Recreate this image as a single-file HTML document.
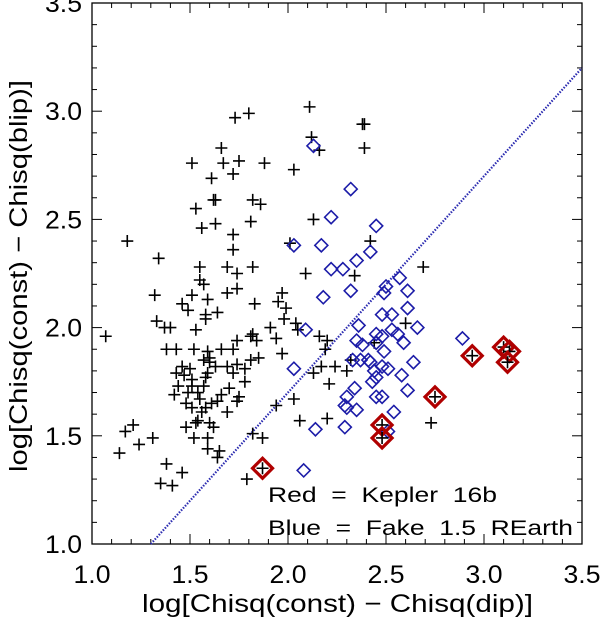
<!DOCTYPE html>
<html><head><meta charset="utf-8"><style>
html,body{margin:0;padding:0;background:#fff;}
svg{display:block;font-family:"Liberation Sans",sans-serif;}
</style></head><body>
<svg id="chart" width="603" height="620" viewBox="0 0 603 620" xmlns="http://www.w3.org/2000/svg">
<g id="ticks"></g>
<g id="marks"></g>
<text x="142" y="612" font-size="25" textLength="391" lengthAdjust="spacingAndGlyphs">log[Chisq(const) − Chisq(dip)]</text>
<text transform="translate(27,472) rotate(-90)" font-size="25" textLength="392" lengthAdjust="spacingAndGlyphs">log[Chisq(const) − Chisq(blip)]</text>
<text x="268" y="502" font-size="21" textLength="229" lengthAdjust="spacingAndGlyphs" xml:space="preserve">Red  =  Kepler  16b</text>
<text x="268" y="535" font-size="21" textLength="305" lengthAdjust="spacingAndGlyphs" xml:space="preserve">Blue  =  Fake  1.5  REarth</text>
</svg>
<script>
const xTicks=[1.0,1.5,2.0,2.5,3.0,3.5];
const yTicks=[1.0,1.5,2.0,2.5,3.0,3.5];
const blackX=[1.73,1.80,2.11,2.12,2.16,2.39,2.38,2.39,1.66,1.51,1.67,1.75,1.88,1.72,1.61,2.03,1.62,1.63,1.82,1.86,1.53,1.56,1.63,1.81,2.13,1.72,1.72,2.42,2.01,1.18,1.34,1.32,1.55,1.55,1.57,1.51,1.59,1.46,1.69,1.74,1.82,1.69,1.74,1.83,1.97,1.95,1.49,1.58,1.58,1.64,1.99,1.98,2.04,2.09,1.33,1.37,1.40,1.53,1.07,1.38,1.43,1.52,1.59,1.60,1.66,1.72,1.74,1.81,1.82,1.84,1.91,1.94,1.97,1.85,1.81,1.74,1.78,1.46,1.50,1.57,1.60,1.63,1.69,1.72,1.43,1.47,1.59,1.58,1.51,1.78,1.44,1.51,1.57,1.42,1.49,1.54,1.66,1.70,1.75,1.74,1.55,1.48,1.51,1.58,1.61,1.64,1.69,1.56,1.54,1.53,1.60,1.62,1.48,1.21,1.17,1.31,1.52,1.59,1.82,1.87,2.03,2.06,1.24,1.14,1.59,1.65,1.64,1.38,1.46,1.35,1.41,1.79,1.94,2.05,2.16,2.20,2.19,2.32,2.17,2.24,2.30,2.13,2.21,2.20,2.44,2.60,2.69,2.73,2.34];
const blackY=[2.97,2.99,3.02,2.88,2.82,2.94,2.94,2.83,2.83,2.76,2.76,2.77,2.76,2.71,2.69,2.73,2.59,2.59,2.59,2.57,2.55,2.46,2.48,2.49,2.50,2.43,2.36,2.40,2.39,2.40,2.32,2.15,2.28,2.22,2.20,2.15,2.13,2.11,2.28,2.25,2.28,2.16,2.18,2.11,2.16,2.12,2.08,2.06,2.04,2.07,2.09,2.04,2.02,2.25,2.03,2.00,2.00,1.99,1.96,1.90,1.90,1.90,1.89,1.86,1.90,1.90,1.94,1.96,1.97,1.94,2.00,1.95,1.88,1.86,1.85,1.83,1.81,1.82,1.81,1.85,1.84,1.82,1.82,1.79,1.79,1.78,1.79,1.77,1.76,1.75,1.73,1.73,1.73,1.69,1.70,1.70,1.69,1.72,1.68,1.66,1.67,1.65,1.63,1.63,1.65,1.66,1.61,1.61,1.57,1.56,1.56,1.54,1.54,1.55,1.52,1.49,1.49,1.49,1.51,1.49,1.67,1.57,1.46,1.42,1.44,1.43,1.40,1.37,1.33,1.28,1.27,1.30,1.64,1.99,1.96,1.94,1.90,1.85,1.82,1.82,1.80,1.79,1.74,1.58,1.93,2.02,2.28,1.56,2.24];
const blueX=[2.13,2.32,2.22,2.45,2.03,2.17,2.42,2.35,2.22,2.28,2.57,2.50,2.49,2.61,2.32,2.18,2.48,2.53,2.61,2.36,2.53,2.56,2.45,2.66,2.09,2.89,2.35,2.38,2.48,2.59,2.45,2.49,2.33,2.37,2.41,2.42,2.64,2.03,2.44,2.48,2.51,2.45,2.43,2.58,2.34,2.61,2.30,2.29,2.30,2.35,2.45,2.48,2.54,2.14,2.29,2.51,2.08];
const blueY=[2.84,2.64,2.51,2.47,2.38,2.38,2.35,2.31,2.27,2.27,2.23,2.19,2.16,2.17,2.17,2.14,2.06,2.06,2.09,2.01,1.99,1.97,1.97,2.00,1.99,1.95,1.94,1.92,1.96,1.93,1.93,1.89,1.85,1.85,1.85,1.84,1.84,1.81,1.80,1.82,1.81,1.77,1.75,1.78,1.72,1.71,1.68,1.64,1.63,1.62,1.68,1.68,1.61,1.53,1.54,1.52,1.34];
const redX=[1.87,2.48,2.48,2.75,2.94,3.10,3.13,3.12];
const redY=[1.35,1.55,1.49,1.68,1.87,1.91,1.89,1.84];
const lineX=[1.3,3.5];
const lineY=[1.0,3.2];

const L=92,R=582,T=3,B=544;
const xs=v=>L+(v-1)/2.5*(R-L);
const ys=v=>B-(v-1)/2.5*(B-T);
const NS='http://www.w3.org/2000/svg';
function mk(tag,attrs,parent){const e=document.createElementNS(NS,tag);for(const k in attrs)e.setAttribute(k,attrs[k]);parent.appendChild(e);return e;}
const tg=document.getElementById('ticks'), mg=document.getElementById('marks');
const frame=mk('rect',{x:L,y:T,width:R-L,height:B-T,fill:'none',stroke:'#000','stroke-width':1.3},tg);


for(let i=0;i<=25;i++){
  const v=1+i*0.1, major=i%5===0, len=major?10:5;
  const x=xs(v), y=ys(v);
  mk('line',{x1:x,y1:B,x2:x,y2:B-len,stroke:'#000','stroke-width':1},tg);
  mk('line',{x1:x,y1:T,x2:x,y2:T+len,stroke:'#000','stroke-width':1},tg);
  mk('line',{x1:L,y1:y,x2:L+len,y2:y,stroke:'#000','stroke-width':1},tg);
  mk('line',{x1:R,y1:y,x2:R-len,y2:y,stroke:'#000','stroke-width':1},tg);
}
xTicks.forEach(v=>{const t=mk('text',{x:xs(v)-18.5,y:583,'font-size':25,textLength:37,lengthAdjust:'spacingAndGlyphs'},tg);t.textContent=v.toFixed(1);

});
yTicks.forEach(v=>{const t=mk('text',{x:45,y:ys(v)+9,'font-size':25,textLength:37,lengthAdjust:'spacingAndGlyphs'},tg);t.textContent=v.toFixed(1);

});
const ln=mk('line',{x1:xs(lineX[0]),y1:ys(lineY[0]),x2:xs(lineX[1]),y2:ys(lineY[1]),stroke:'#2a2ab0','stroke-width':2.2,'stroke-dasharray':'1.5,1.5'},mg);


function cross(x,y){const p=mk('path',{d:`M${x-6},${y}H${x+6}M${x},${y-6}V${y+6}`,stroke:'#000','stroke-width':1.6,fill:'none'},mg);

}
function diamond(x,y,r,c,w,name){const p=mk('path',{d:`M${x},${y-r}L${x+r},${y}L${x},${y+r}L${x-r},${y}Z`,stroke:c,'stroke-width':w,fill:'none'},mg);

}
blackX.forEach((v,i)=>cross(xs(v),ys(blackY[i])));
blueX.forEach((v,i)=>diamond(xs(v),ys(blueY[i]),6.5,'#1c1ca8',1.6,'blue-point'));
redX.forEach((v,i)=>{diamond(xs(v),ys(redY[i]),10,'#b00000',3.2,'red-point');cross(xs(v),ys(redY[i]));});
</script>
</body></html>
